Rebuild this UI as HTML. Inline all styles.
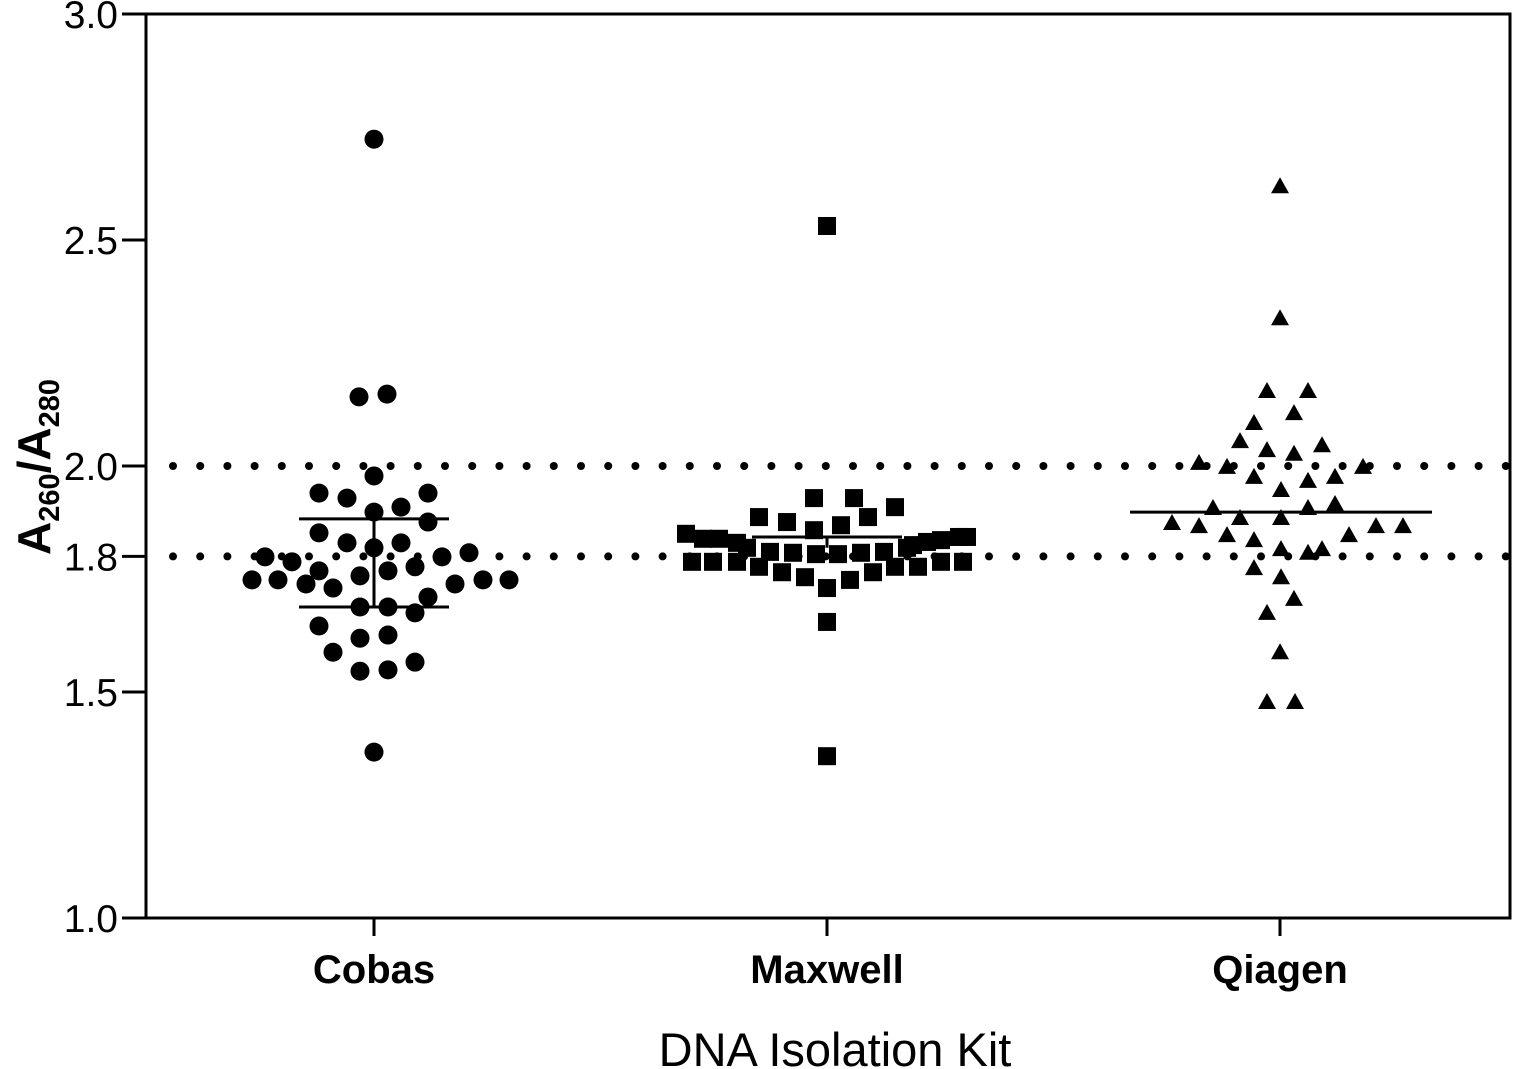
<!DOCTYPE html>
<html><head><meta charset="utf-8"><style>
html,body{margin:0;padding:0;background:#fff;width:1513px;height:1069px;overflow:hidden}
svg text{font-family:"Liberation Sans",sans-serif;fill:#000}
</style></head><body>
<svg id="chart" width="1513" height="1069" xmlns="http://www.w3.org/2000/svg">
<g id="axes"></g>
<g id="marks"></g>
<text x="835" y="1066" font-size="47" text-anchor="middle">DNA Isolation Kit</text>
<text transform="translate(50,467) rotate(-90)" font-size="46" font-weight="bold" text-anchor="middle">A<tspan font-size="29" dy="9">260</tspan><tspan dy="-9">/A</tspan><tspan font-size="29" dy="9">280</tspan></text>
</svg>
<script>
const categories = ["Cobas","Maxwell","Qiagen"];
const yTicks = [1.0,1.5,1.8,2.0,2.5,3.0];
const yTickLabels = ["1.0","1.5","1.8","2.0","2.5","3.0"];
const refLines = [1.8,2.0];
const cobasValues = [2.723,2.153,2.159,1.978,1.940,1.929,1.940,1.898,1.909,1.876,1.852,1.830,1.819,1.830,1.799,1.788,1.799,1.808,1.777,1.768,1.757,1.768,1.748,1.748,1.739,1.730,1.739,1.748,1.748,1.710,1.688,1.688,1.675,1.646,1.619,1.626,1.588,1.546,1.549,1.566,1.367];
const cobasJitter = [0,-15,13,0,-55,-27,54,0,27,54,-55,-27,0,27,-109,-82,68,95,41,-55,-14,14,-122,-96,-68,-41,81,109,135,54,-14,14,41,-55,-14,14,-41,-14,14,41,0];
const maxwellValues = [2.531,1.929,1.929,1.909,1.887,1.876,1.887,1.858,1.869,1.850,1.839,1.839,1.830,1.825,1.832,1.836,1.843,1.843,1.819,1.810,1.808,1.805,1.805,1.808,1.810,1.819,1.788,1.788,1.788,1.777,1.765,1.754,1.730,1.748,1.765,1.777,1.777,1.788,1.788,1.655,1.358];
const maxwellJitter = [0,-13,27,68,-68,-40,41,-13,14,-141,-124,-108,-90,86,100,114,132,140,-80,-57,-34,-11,11,34,57,80,-135,-114,-90,-68,-45,-22,0,23,46,68,91,114,136,0,0];
const qiagenValues = [2.619,2.327,2.166,2.166,2.117,2.095,2.055,2.035,2.027,2.046,2.007,1.998,1.998,1.976,1.967,1.976,1.947,1.907,1.907,1.916,1.874,1.867,1.885,1.885,1.867,1.867,1.847,1.836,1.847,1.816,1.808,1.816,1.774,1.754,1.706,1.675,1.588,1.478,1.478];
const qiagenJitter = [0,0,-13,28,14,-26,-40,-13,14,42,-81,-53,83,-26,28,55,1,-67,28,55,-108,-81,-40,1,96,123,-53,-26,69,1,28,42,-26,1,14,-13,0,-13,15];
const cobasBar = [1.688,1.883];
const maxwellMean = [1.843,1.819];
const qiagenMean = [1.898];

const NS="http://www.w3.org/2000/svg";
const L=146,R=1510,T=14,B=918;
const catX=[374,827,1280];
function yScale(v){return B-(v-1.0)/(3.0-1.0)*(B-T);}
function mk(tag,attrs,parent){const e=document.createElementNS(NS,tag);for(const k in attrs)e.setAttribute(k,attrs[k]);parent.appendChild(e);return e;}
const axes=document.getElementById('axes'),marks=document.getElementById('marks');
let f=mk('path',{d:`M${L},${T}H${R}V${B}H${L}Z`,fill:'none',stroke:'#000','stroke-width':3},axes);


yTicks.forEach((t,i)=>{const y=yScale(t);
 let l=mk('line',{x1:122,x2:L,y1:y,y2:y,stroke:'#000','stroke-width':3},axes);
 
 
 let tx=mk('text',{x:118,y:y+14,'font-size':39,'text-anchor':'end'},axes);tx.textContent=yTickLabels[i];
 
 
});
categories.forEach((c,i)=>{
 let l=mk('line',{x1:catX[i],x2:catX[i],y1:B,y2:B+18,stroke:'#000','stroke-width':3},axes);
 
 
 let tx=mk('text',{x:catX[i],y:983,'font-size':40,'font-weight':'bold','text-anchor':'middle'},axes);tx.textContent=c;
 
 
});
refLines.forEach(v=>{const y=yScale(v);
 const g=mk('g',{},axes);
 
 
 for(let x=173;x<R;x+=27.2)mk('circle',{cx:x,cy:y,r:4,fill:'#000'},g);
});
function circ(v,j){let e=mk('circle',{cx:catX[0]+j,cy:yScale(v),r:9.5,fill:'#000'},marks);
 
 }
function sq(v,j){let e=mk('rect',{x:catX[1]+j-9,y:yScale(v)-9,width:18,height:18,fill:'#000'},marks);
 
 }
function tri(v,j){const x=catX[2]+j,y=yScale(v);let e=mk('polygon',{points:`${x-9},${y+7} ${x+9},${y+7} ${x},${y-9}`,fill:'#000'},marks);
 
 }
cobasValues.forEach((v,i)=>circ(v,cobasJitter[i]));
maxwellValues.forEach((v,i)=>sq(v,maxwellJitter[i]));
qiagenValues.forEach((v,i)=>tri(v,qiagenJitter[i]));
let g1=mk('path',{d:`M${catX[0]-75},${yScale(cobasBar[1])}H${catX[0]+75}M${catX[0]-75},${yScale(cobasBar[0])}H${catX[0]+75}M${catX[0]},${yScale(cobasBar[1])}V${yScale(cobasBar[0])}`,stroke:'#000','stroke-width':3,fill:'none'},marks);


let g2=mk('path',{d:`M${catX[1]-75},${yScale(maxwellMean[0])}H${catX[1]+75}M${catX[1]},${yScale(maxwellMean[0])}V${yScale(maxwellMean[1])}`,stroke:'#000','stroke-width':3,fill:'none'},marks);


let g3=mk('path',{d:`M${catX[2]-150},${yScale(qiagenMean[0])}H${catX[2]+152}`,stroke:'#000','stroke-width':3,fill:'none'},marks);


</script>
</body></html>
